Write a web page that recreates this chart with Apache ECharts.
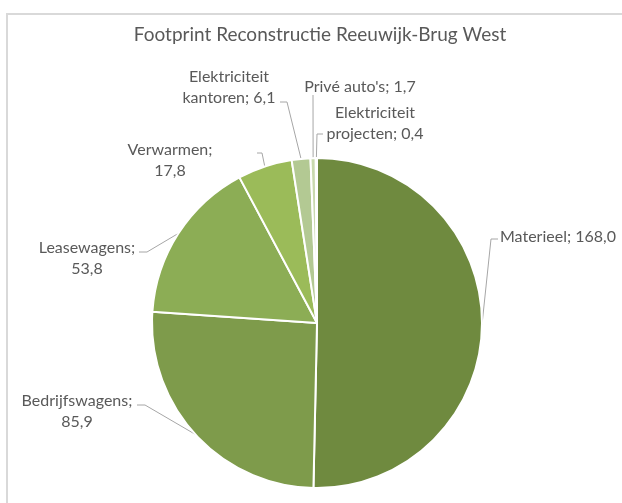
<!DOCTYPE html>
<html>
<head>
<meta charset="utf-8">
<style>
html, body { margin: 0; padding: 0; background: #fff; }
#chart { width: 622px; height: 503px; }
</style>
<script src="https://cdn.jsdelivr.net/npm/echarts@6/dist/echarts.min.js"></script>
</head>
<body>
<div id="chart"></div>
<script>
// CO2-footprint per post
const categories = ['Materieel', 'Bedrijfswagens', 'Leasewagens', 'Verwarmen', 'Elektriciteit kantoren', "Privé auto's", 'Elektriciteit projecten'];
const values = [168.0, 85.9, 53.8, 17.8, 6.1, 1.7, 0.4];
// how the label text wraps: 'none', after the name ('value') or inside the name ('name')
const wrapStyle = ['none', 'value', 'value', 'value', 'name', 'none', 'name'];

const colors = ['#6f8a3f', '#7e9b4b', '#8cad55', '#9bbb59', '#b3c993', '#c9d9ae', '#dce7c6'];

// label spots as Excel placed them, with the elbow and end of each leader line
const labelSpots = [
  { x: 500, y: 237, align: 'left', elbow: [491, 239], end: [498, 239] },
  { x: 77, y: 411, align: 'center', elbow: [145, 405], end: [137, 405] },
  { x: 87, y: 258, align: 'center', elbow: [147, 252], end: [139, 252] },
  { x: 170, y: 160, align: 'center', elbow: [262, 153], end: [257, 153] },
  { x: 229, y: 87, align: 'center', elbow: [287, 102], end: [280, 102] },
  { x: 360, y: 87, align: 'center', elbow: null, end: [313, 95] },
  { x: 375, y: 123, align: 'center', elbow: [317, 134], end: [323, 134] }
];

function labelText (i) {
  const v = values[i].toFixed(1).replace('.', ',');
  const name = categories[i];
  if (wrapStyle[i] === 'value') return name + ';\n' + v;
  if (wrapStyle[i] === 'name') return name.replace(' ', '\n') + '; ' + v;
  return name + '; ' + v;
}

const chart = echarts.init(document.getElementById('chart'));
const option = {
  animation: false,
  color: colors,
  title: {
    text: 'Footprint Reconstructie Reeuwijk-Brug West',
    left: 315,
    top: 20,
    textAlign: 'center',
    textStyle: {
      fontFamily: 'Lato',
      fontSize: 19,
      fontWeight: 'normal',
      color: '#595959'
    }
  },
  graphic: [{
    type: 'rect',
    shape: { x: 7, y: 14, width: 700, height: 700 },
    style: { fill: 'none', stroke: '#d9d9d9', lineWidth: 2 },
    silent: true
  }],
  series: [{
    type: 'pie',
    center: [317, 323],
    radius: 165,
    startAngle: 90,
    clockwise: true,
    avoidLabelOverlap: false,
    itemStyle: { borderColor: '#fff', borderWidth: 2 },
    label: {
      show: true,
      formatter: (p) => labelText(p.dataIndex),
      fontFamily: 'Lato',
      fontSize: 16,
      lineHeight: 21,
      color: '#595959'
    },
    labelLine: {
      show: true,
      length: 10,
      length2: 10,
      lineStyle: { color: '#a6a6a6', width: 1 }
    },
    labelLayout: (p) => {
      const s = labelSpots[p.dataIndex];
      const start = p.labelLinePoints ? p.labelLinePoints[0] : s.end;
      const pts = s.elbow ? [start, s.elbow, s.end] : [start, s.end];
      return {
        x: s.x,
        y: s.y,
        align: s.align,
        verticalAlign: 'middle',
        labelLinePoints: pts
      };
    },
    emphasis: { disabled: true },
    data: categories.map((name, i) => ({
      name: name,
      value: values[i],
      label: { align: labelSpots[i].align }
    }))
  }]
};
chart.setOption(option);
</script>
</body>
</html>
